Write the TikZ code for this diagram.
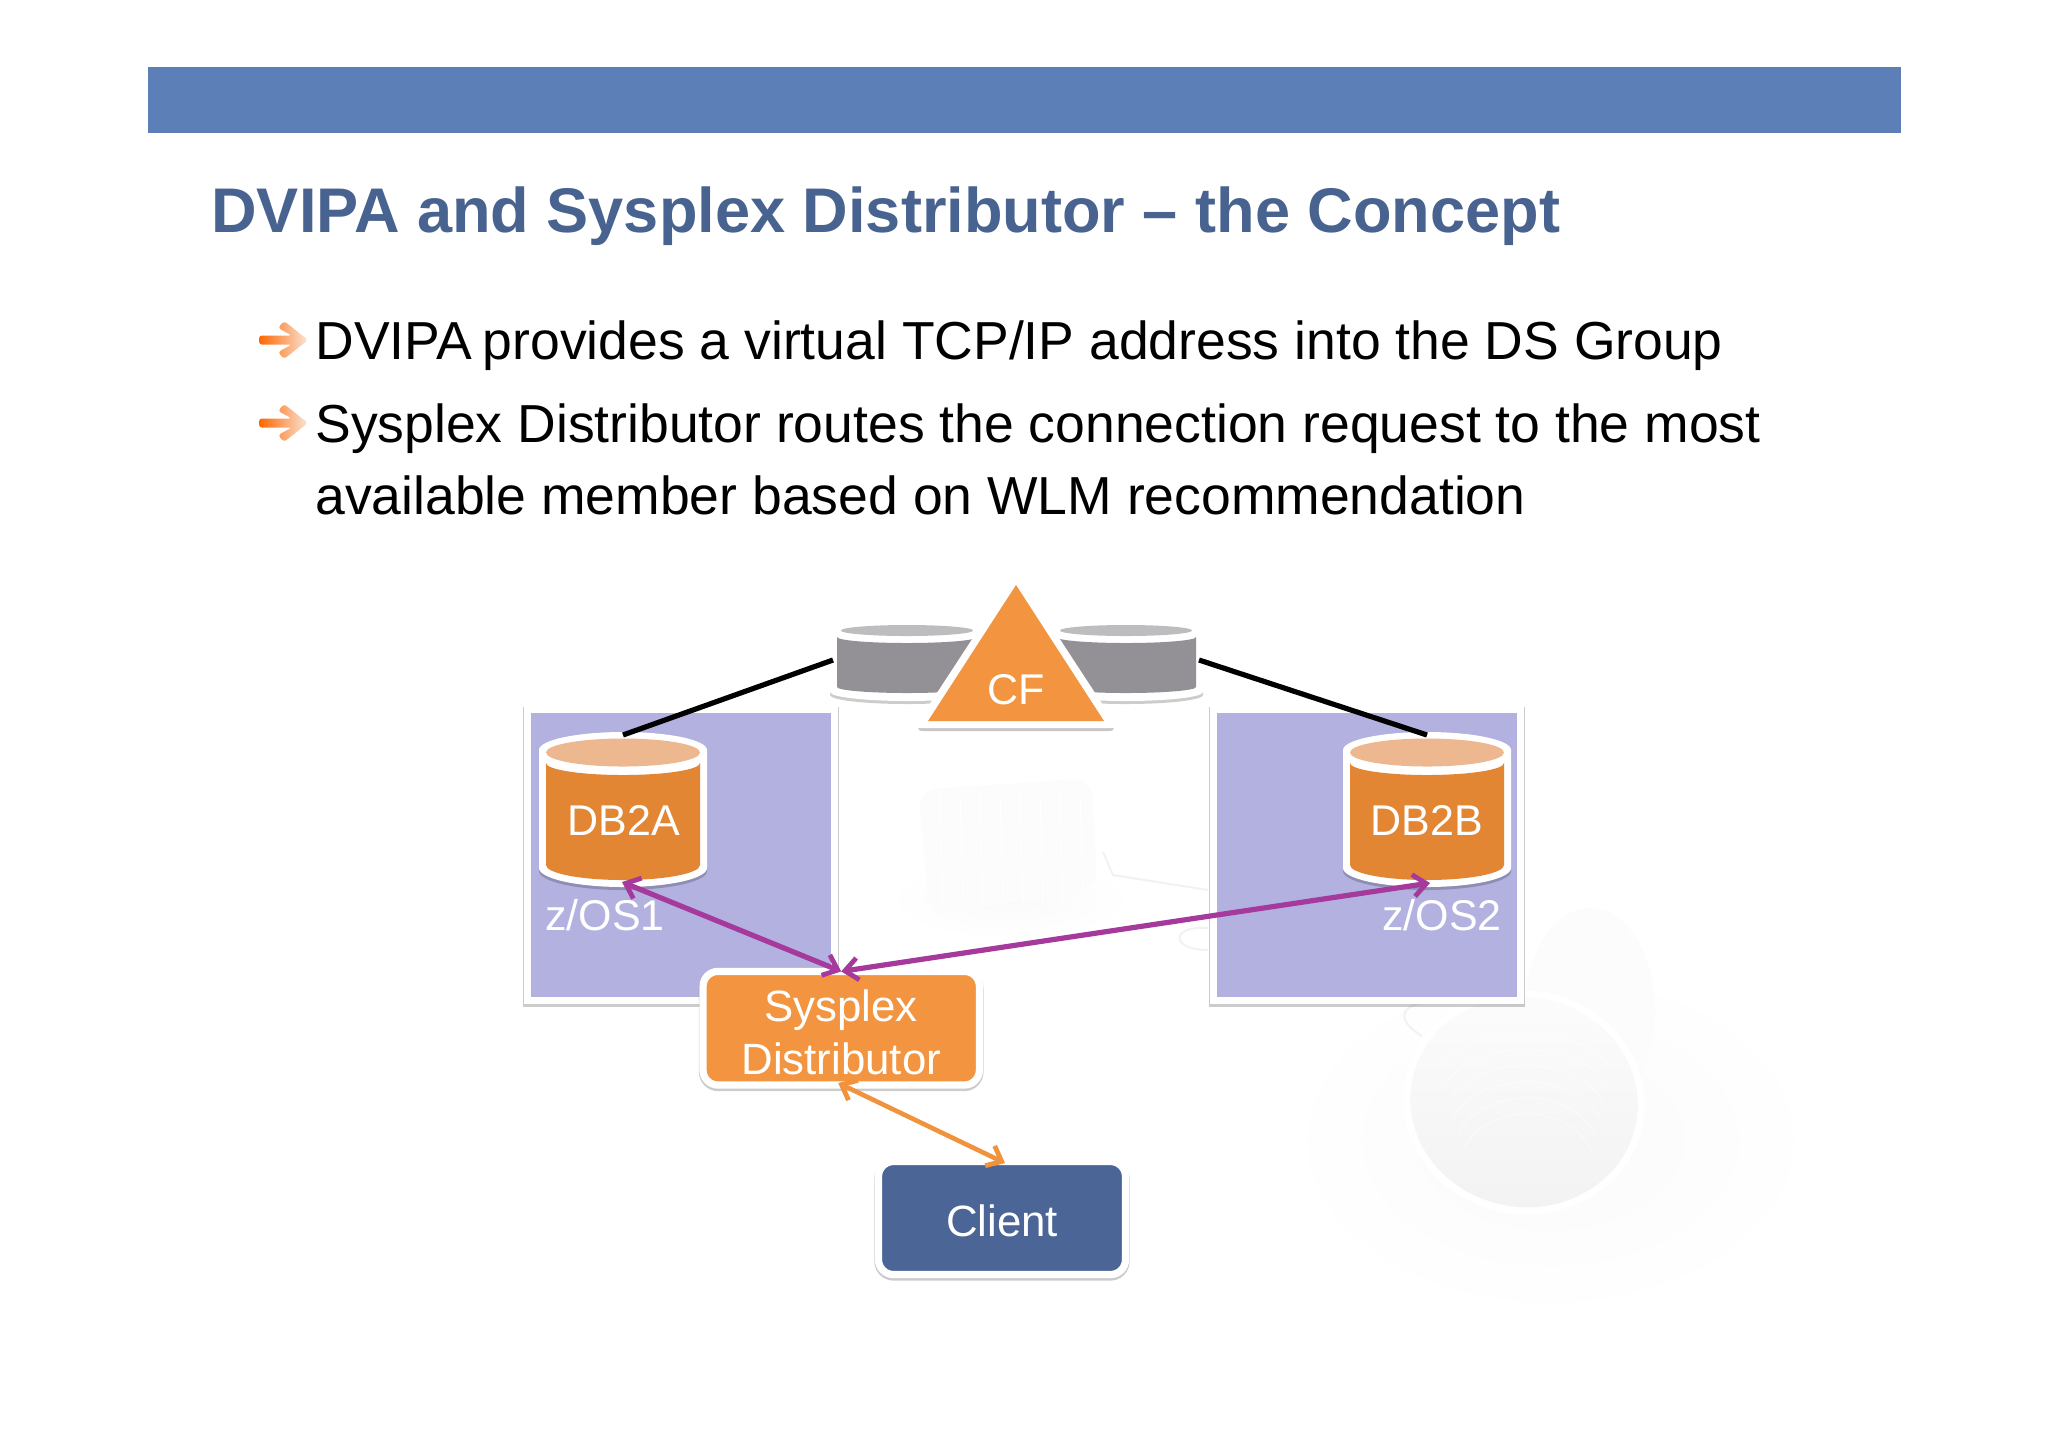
\documentclass[tikz,border=0pt]{standalone}
\usepackage{fontspec}
\setmainfont{Liberation Sans}
\usetikzlibrary{arrows.meta,shadows,positioning}
\definecolor{barblue}{HTML}{5C7FB8}
\definecolor{titleblue}{HTML}{48638F}
\definecolor{panelc}{HTML}{B2B1E0}
\definecolor{orangeA}{HTML}{F39540}
\definecolor{orangeB}{HTML}{E38634}
\definecolor{orangeT}{HTML}{EDB78F}
\definecolor{greyB}{HTML}{939195}
\definecolor{greyT}{HTML}{BDBDBF}
\definecolor{clientc}{HTML}{4A6596}
\definecolor{purp}{HTML}{A5399C}
\definecolor{arrowo}{HTML}{F1923C}
\definecolor{wmA}{HTML}{F2F2F3}
\definecolor{wmB}{HTML}{FCFCFD}
\definecolor{wmC}{HTML}{FAFAFB}
\tikzset{
  softshadow/.style={drop shadow={shadow xshift=0pt,shadow yshift=-1pt,fill=black,draw=black,line width=4.1pt,opacity=.2}},
  panel/.style={rectangle,draw=white,line width=3.5pt,fill=panelc,outer sep=0pt,inner sep=0pt,softshadow},
  box/.style={rectangle,rounded corners=7.5pt,draw=white,line width=3.6pt,outer sep=0pt,inner sep=0pt,
    align=center,text=white,font=\fontsize{21.9}{26.5}\selectfont,softshadow},
  anchorbox/.style={rectangle,inner sep=0pt,outer sep=0pt},
  lbl/.style={anchor=base,inner sep=0pt,text=white,font=\fontsize{21.5}{26}\selectfont},
  bodytxt/.style={anchor=base west,inner sep=0pt,text=black,font=\fontsize{26.75}{30}\selectfont},
  link/.style={line width=2.6pt,line cap=round,{Straight Barb[length=6.5pt,width=11pt,line width=2.4pt]}-{Straight Barb[length=6.5pt,width=11pt,line width=2.4pt]}},
  blackline/.style={line width=2.6pt,black},
}
% #1 cx, #2 body rx, #3 body top edge y, #4 body top arc ry, #5 body bottom edge y, #6 bottom ry,
% #7 top ellipse rx, #8 top ellipse cy, #9 top ellipse ry; outer contour: \oT \oTr \oB \oBr, colours \drumbody \drumtop
\newcommand\drumshape[9]{%
  \fill[black,opacity=.2] (#1-#2-7,\oB) -- (#1+#2+7,\oB) -- (#1+#2+7,\oB+3)
     arc[start angle=0,end angle=180,x radius=#2+7,y radius=\oBr] -- cycle;
  \fill[white] (#1-#2-7,\oT) arc[start angle=180,end angle=360,x radius=#2+7,y radius=\oTr]
     -- (#1+#2+7,\oB) arc[start angle=0,end angle=180,x radius=#2+7,y radius=\oBr] -- cycle;
  \fill[\drumbody] (#1-#2,#3) arc[start angle=180,end angle=0,x radius=#2,y radius=#4]
     -- (#1+#2,#5) arc[start angle=0,end angle=180,x radius=#2,y radius=#6] -- cycle;
  \fill[\drumtop] (#1,#8) ellipse[x radius=#7,y radius=#9];
}
\newcommand\bulletarrow[1]{%
  \begin{scope}[yshift=#1*-0.5pt]
  \shade[left color=orange!80!red,middle color=orangeT,right color=orangeT!35!white,rounded corners=1.5pt]
    (259,-4.5) -- (292,-4.5) -- (278,-12) -- (284,-19) -- (308,0) -- (284,19) -- (278,12) -- (292,4.5) -- (259,4.5) -- cycle;
  \end{scope}}
\begin{document}
\begin{tikzpicture}[x=0.5pt,y=-0.5pt]
\useasboundingbox (0,0) rectangle (2048,1447);
\fill[white] (0,0) rectangle (2048,1447);

% faint background spools
\shade[inner color=wmC,outer color=white] (1550,1140) ellipse[x radius=270,y radius=180];
\fill[wmB] (1590,1010) ellipse[x radius=65,y radius=102];
\fill[white,rotate around={-10:(1524,1102)}] (1524,1102) ellipse[x radius=121,y radius=112];
\shade[top color=wmB,bottom color=wmA,rotate around={-10:(1524,1102)}] (1524,1102) ellipse[x radius=114,y radius=105];
\foreach \r in {0,16,32,48,64,80}{
  \draw[white,opacity=.5,line width=.5pt] (1524-85+\r*.3,1070+\r) arc[start angle=200,end angle=340,x radius=92-\r*.3,y radius=55];
}
\shade[inner color=wmC,outer color=white] (1010,900) ellipse[x radius=125,y radius=40];
\fill[wmB,rounded corners=10pt] (918,790) -- (1092,778) -- (1097,890) -- (930,915) -- cycle;
\foreach \x in {940,960,980,1000,1020,1040,1060,1080}{\draw[white,line width=.5pt] (\x,790) -- (\x+3,905);}
\draw[wmA,line width=1pt] (1103,852) -- (1113,875) -- (1208,890);
\draw[wmA,line width=1pt] (1208,928) .. controls (1170,925) and (1170,950) .. (1208,950);
\draw[wmA,line width=1pt] (1450,1000) .. controls (1395,1000) and (1395,1020) .. (1422,1036);

% header
\fill[barblue] (148,66.5) rectangle (1901,133);
\node[anchor=base west,inner sep=0pt,text=titleblue,font=\bfseries\fontsize{31.55}{36}\selectfont] (title) at (211,232) {DVIPA and Sysplex Distributor – the Concept};

\bulletarrow{340}
\bulletarrow{423}
\node[bodytxt] (b1) at (315,359) {DVIPA\hspace{-2pt} provides a virtual TCP/IP address into the DS Group};
\node[bodytxt] (b2) at (315,442) {Sysplex Distributor routes the connection request to the most};
\node[bodytxt] (b3) at (315,514) {available member based on WLM recommendation};

% panels
\node[panel,minimum width=153.5pt,minimum height=145.5pt] (panelA) at (681,855) {};
\node[panel,minimum width=153.5pt,minimum height=145.5pt] (panelB) at (1367,855) {};

% disks
\node[anchorbox,minimum width=183pt,minimum height=38pt] (disks) at (1016,660) {};
\coordinate (diskL) at (disks.west);
\coordinate (diskR) at (disks.east);
\def\drumbody{greyB}\def\drumtop{greyT}
\def\oT{630}\def\oTr{7}\def\oB{692}\def\oBr{9}
\drumshape{907}{70}{637}{6}{687}{6}{66}{630.5}{5.5}
\drumshape{1126}{70}{637}{6}{687}{6}{66}{630.5}{5.5}

% databases
\node[anchorbox,minimum width=84pt,minimum height=78pt] (dbA) at (623,809) {};
\node[anchorbox,minimum width=84pt,minimum height=78pt] (dbB) at (1427,809) {};
\def\drumbody{orangeB}\def\drumtop{orangeT}
\def\oT{750}\def\oTr{18}\def\oB{868}\def\oBr{19}
\drumshape{623}{77}{763}{12}{865}{15}{77}{752.5}{14}
\drumshape{1427}{77}{763}{12}{865}{15}{77}{752.5}{14}
\draw[blackline] (diskL) -- ([yshift=-2pt]dbA.north);
\draw[blackline] (diskR) -- ([yshift=-2pt]dbB.north);

% triangle
\fill[black,opacity=.22,rounded corners=3pt] (1016,579) -- (1116,731) -- (916,731) -- cycle;
\fill[white,rounded corners=3pt] (1016,572) -- (1118,728) -- (914,728) -- cycle;
\fill[orangeA] (1016,585) -- (1104,721) -- (928,721) -- cycle;

% boxes
\node[box,fill=orangeA,minimum width=138.2pt,minimum height=56.8pt] (sd) at (841.2,1028.2) {\rule{0pt}{20pt}Sysplex\\Distributor};
\node[box,fill=clientc,minimum width=123.5pt,minimum height=56.5pt] (client) at (1002,1218) {\rule{0pt}{19pt}Client};

% labels
\node[lbl] (cfl) at (1016,704) {CF};
\node[lbl] (dbAl) at (624,835) {DB2A};
\node[lbl] (dbBl) at (1427,835) {DB2B};
\node[lbl] (os1) at (605,930) {z/OS1};
\node[lbl] (os2) at (1442,930) {z/OS2};

% connectors
\draw[link,purp] ([xshift=-.5pt,yshift=2.5pt]dbA.south) -- (sd.north);
\draw[link,purp] (sd.north) -- ([xshift=1.5pt,yshift=2pt]dbB.south);
\draw[link,arrowo,line width=2.3pt] ([xshift=-1.5pt,yshift=1pt]sd.south) -- ([xshift=1.5pt,yshift=-.75pt]client.north);
\end{tikzpicture}
\end{document}
